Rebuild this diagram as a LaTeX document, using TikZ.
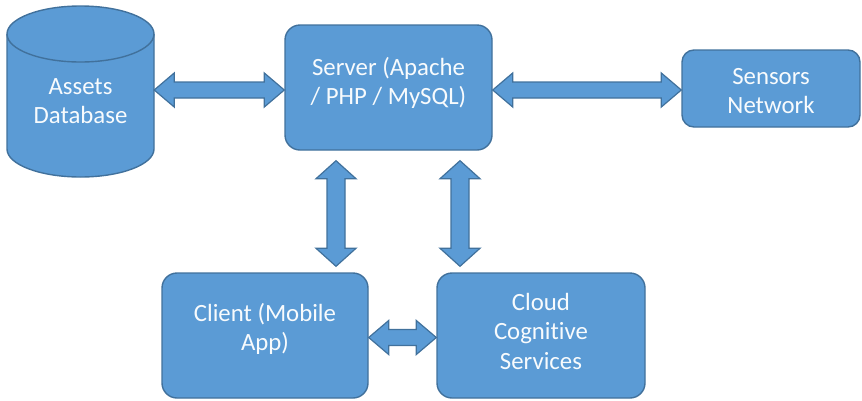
\documentclass[tikz,border=0pt]{standalone}
\usepackage{fontspec}
\setmainfont{Carlito}[Ligatures=NoCommon]
\usetikzlibrary{calc}
\definecolor{boxfill}{HTML}{5B9BD5}
\definecolor{boxline}{HTML}{41719C}
\tikzset{
  box/.style={draw=boxline, fill=boxfill, line width=1.4pt, rounded corners=15pt, inner sep=0pt},
  arrowsty/.style={draw=boxline, fill=boxfill, line width=1.2pt, line join=miter},
  lbl/.style={text=white!96!boxfill, align=center, font=\fontsize{24.8}{29.5}\selectfont, inner sep=0pt}
}
\newcommand\dblarrow[5]{%
  \coordinate (ua) at ($(#1)!#5!(#2)$);
  \coordinate (ub) at ($(#2)!#5!(#1)$);
  \filldraw[arrowsty] (#1) -- ($(ua)!#4!90:(#2)$) -- ($(ua)!#3!90:(#2)$)
    -- ($(ub)!#3!-90:(#1)$) -- ($(ub)!#4!-90:(#1)$) -- (#2)
    -- ($(ub)!#4!90:(#1)$) -- ($(ub)!#3!90:(#1)$)
    -- ($(ua)!#3!-90:(#2)$) -- ($(ua)!#4!-90:(#2)$) -- cycle;}
\begin{document}
\begin{tikzpicture}[x=1pt,y=-1pt]
\useasboundingbox (0,0) rectangle (862,400);
% cylinder
\filldraw[draw=boxline, fill=boxfill, line width=1.4pt]
  (7,34) -- (7,149) arc[start angle=180, end angle=0, x radius=73.5, y radius=28]
  -- (154,34) arc[start angle=0, end angle=-180, x radius=73.5, y radius=28] -- cycle;
\draw[boxline, line width=1.4pt] (7,34) arc[start angle=180, end angle=0, x radius=73.5, y radius=28];
\node[inner sep=0pt, minimum width=147pt, minimum height=172pt] (db) at (80.5,90) {};
\node[lbl] (dbt) at (80.5,101) {Assets\\Database};
% boxes
\node[box, minimum width=207pt, minimum height=125pt] (srv) at (388.5,87.5) {};
\node[lbl] (srvt) at (388.5,83) {Server (Apache\\/ PHP / MySQL)};
\node[box, minimum width=178pt, minimum height=77pt, rounded corners=12pt] (sens) at (771,88.5) {};
\node[lbl] (senst) at (771,91) {Sensors\\Network};
\node[box, minimum width=206pt, minimum height=125pt] (cli) at (265,335.5) {};
\node[lbl] (clit) at (265,329) {Client (Mobile\\App)};
\node[box, minimum width=208pt, minimum height=125pt] (cloud) at (541,335.5) {};
\node[lbl] (cloudt) at (541,331) {Cloud\\Cognitive\\Services};
% arrow end points
\coordinate (h1a) at ($(db.east)+(0,0)$);
\coordinate (h1b) at (srv.west |- h1a);
\coordinate (h2a) at ($(srv.east)+(0,2.5)$);
\coordinate (h2b) at (sens.west |- h2a);
\coordinate (v1a) at ($(srv.south)+(-52.5,10)$);
\coordinate (v1b) at ($(cli.north)+(71,-6)$);
\coordinate (v2a) at ($(srv.south)+(71.5,10)$);
\coordinate (v2b) at ($(cloud.north)+(-81,-6)$);
\coordinate (h3a) at ($(cli.east)+(0,2)$);
\coordinate (h3b) at (cloud.west |- h3a);
\dblarrow{h1a}{h1b}{8pt}{17pt}{20pt}
\dblarrow{h2a}{h2b}{8pt}{17pt}{20pt}
\dblarrow{v1a}{v1b}{9pt}{20pt}{18pt}
\dblarrow{v2a}{v2b}{9pt}{20pt}{18pt}
\dblarrow{h3a}{h3b}{8pt}{17pt}{20pt}
\end{tikzpicture}
\end{document}
